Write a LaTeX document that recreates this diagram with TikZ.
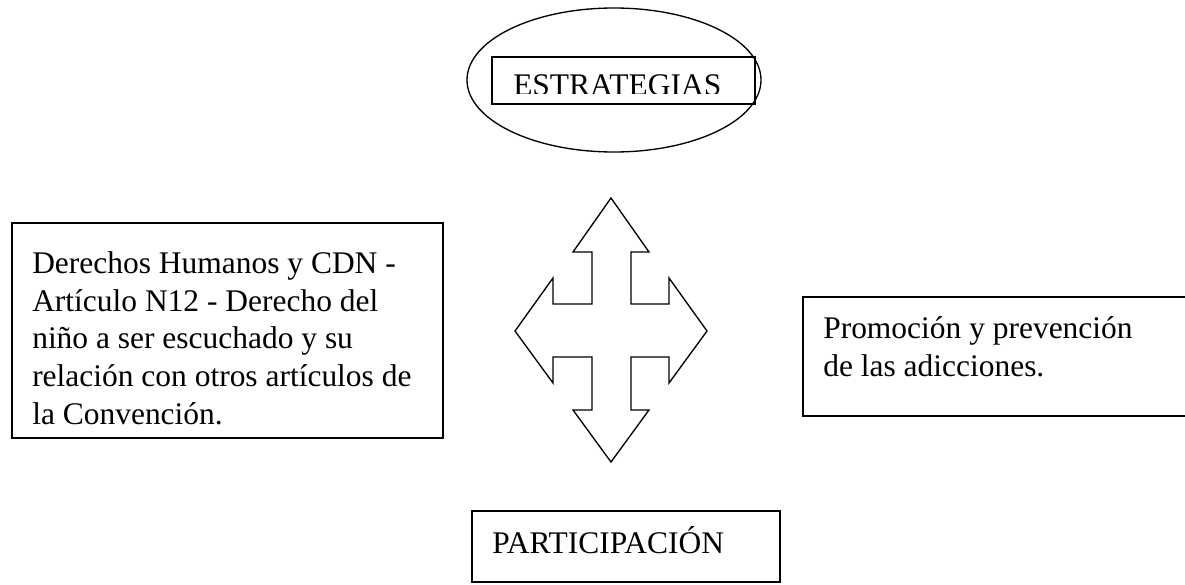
\documentclass[tikz,border=0pt]{standalone}
\usepackage{fontspec}
\setmainfont{Liberation Serif}
\usetikzlibrary{shapes.geometric}
\begin{document}
\begin{tikzpicture}[x=0.75pt,y=-0.75pt,
  boxline/.style={draw=black,line width=1.2pt},
  txt/.style={anchor=base west,inner sep=0pt,font=\fontsize{23.6}{28.3}\selectfont},
  arrowshape/.style={draw=black,line width=1pt,line join=miter}]
\useasboundingbox (0,0) rectangle (1185,585);
% top ellipse with box
\node (ell) [ellipse,draw=black,line width=1pt,minimum width=294\pgflinewidth*0+220.5pt,minimum height=108pt,inner sep=0pt] at (614,80) {};
\node (estbox) [boxline,rectangle,minimum width=197.25pt,minimum height=35.25pt,inner sep=0pt] at (623.5,80.5) {};
\begin{scope}
\clip (492,57) rectangle (755,93.5);
\node (est) [txt] at (513,95) {ESTRATEGIAS};
\end{scope}
% four-way arrow
\draw[arrowshape] (611,198) -- (649,252) -- (631,252) -- (631,304) -- (669,304) -- (669,278)
  -- (707,331) -- (669,383) -- (669,357) -- (631,357) -- (631,410) -- (649,410)
  -- (611,462) -- (573,410) -- (592,410) -- (592,357) -- (553,357) -- (553,383)
  -- (515,331) -- (553,278) -- (553,304) -- (592,304) -- (592,252) -- (573,252) -- cycle;
% left box
\node (lbox) [boxline,rectangle,minimum width=323.25pt,minimum height=161.25pt,inner sep=0pt] at (227.5,330.5) {};
\node (l1) [txt] at (32,273) {Derechos Humanos y CDN -};
\node (l2) [txt] at (32,311) {Artículo N12 - Derecho del};
\node (l3) [txt] at (32,348) {niño a ser escuchado y su};
\node (l4) [txt] at (32,386) {relación con otros artículos de};
\node (l5) [txt] at (32,424) {la Convención.};
% right box (open at right edge)
\coordinate (rtl) at (1190,297);
\coordinate (rbl) at (1190,416);
\draw[boxline] (rtl) -- (803,297) -- (803,416) -- (rbl);
\node (r1) [txt] at (823,338) {Promoción y prevención};
\node (r2) [txt] at (823,376) {de las adicciones.};
% bottom box
\node (pbox) [boxline,rectangle,minimum width=231pt,minimum height=53.25pt,inner sep=0pt] at (626,546.5) {};
\node (part) [txt] at (492,553) {PARTICIPACIÓN};
\end{tikzpicture}
\end{document}
